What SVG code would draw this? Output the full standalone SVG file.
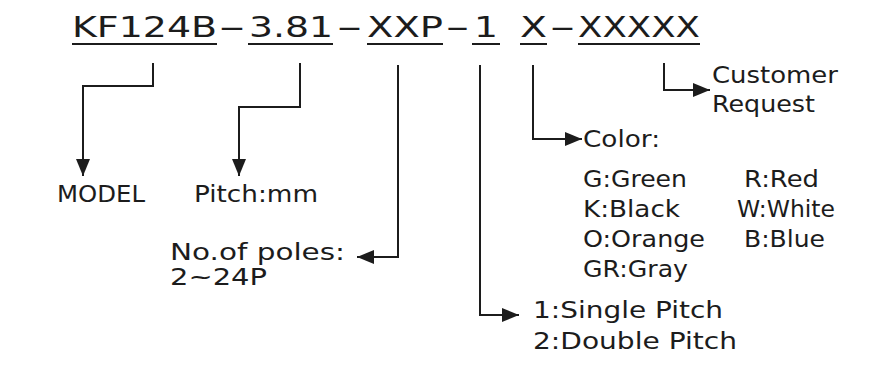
<svg xmlns="http://www.w3.org/2000/svg" width="873" height="373" viewBox="0 0 873 373">
<style>
text{font-family:"DejaVu Sans","Liberation Sans",sans-serif;fill:#1c1c1c}
.t{font-size:28px}
.l{font-size:23px}
.ul{stroke:#1c1c1c;stroke-width:2}
.c{fill:none;stroke:#1c1c1c;stroke-width:2}
</style>
<defs>
<marker id="ah" viewBox="0 0 17 14" refX="17" refY="7" markerWidth="17" markerHeight="14" markerUnits="userSpaceOnUse" orient="auto">
<path d="M0,0 L17,7 L0,14 z" fill="#1c1c1c"/>
</marker>
</defs>
<rect width="873" height="373" fill="#fff"/>
<g id="title">
<text class="t" x="72" y="37" textLength="145" lengthAdjust="spacingAndGlyphs">KF124B</text>
<text class="t" x="218" y="37" textLength="28" lengthAdjust="spacingAndGlyphs">-</text>
<text class="t" x="249" y="37" textLength="84" lengthAdjust="spacingAndGlyphs">3.81</text>
<text class="t" x="336" y="37" textLength="27" lengthAdjust="spacingAndGlyphs">-</text>
<text class="t" x="367" y="37" textLength="76" lengthAdjust="spacingAndGlyphs">XXP</text>
<text class="t" x="445" y="37" textLength="25" lengthAdjust="spacingAndGlyphs">-</text>
<text class="t" x="474" y="37" textLength="24" lengthAdjust="spacingAndGlyphs">1</text>
<text class="t" x="520" y="37" textLength="27" lengthAdjust="spacingAndGlyphs">X</text>
<text class="t" x="549" y="37" textLength="27" lengthAdjust="spacingAndGlyphs">-</text>
<text class="t" x="578" y="37" textLength="122" lengthAdjust="spacingAndGlyphs">XXXXX</text>
<line class="ul" x1="72" y1="44" x2="217" y2="44"/>
<line class="ul" x1="248" y1="44" x2="333" y2="44"/>
<line class="ul" x1="367" y1="44" x2="443" y2="44"/>
<line class="ul" x1="472" y1="44" x2="500" y2="44"/>
<line class="ul" x1="520" y1="44" x2="547" y2="44"/>
<line class="ul" x1="578" y1="44" x2="700" y2="44"/>
</g>
<g id="connectors">
<path class="c" d="M153,63 V86 H83 V176" marker-end="url(#ah)"/>
<path class="c" d="M300,63 V107 H239 V176" marker-end="url(#ah)"/>
<path class="c" d="M398,65 V257 H357" marker-end="url(#ah)"/>
<path class="c" d="M480,65 V315 H519" marker-end="url(#ah)"/>
<path class="c" d="M533,65 V139 H582" marker-end="url(#ah)"/>
<path class="c" d="M664,63 V90 H710" marker-end="url(#ah)"/>
</g>
<g id="model">
<text class="l" x="57" y="202" textLength="88" lengthAdjust="spacingAndGlyphs">MODEL</text>
</g>
<g id="pitch">
<text class="l" x="194" y="202" textLength="124" lengthAdjust="spacingAndGlyphs">Pitch:mm</text>
</g>
<g id="poles">
<text class="l" x="170" y="260" textLength="175" lengthAdjust="spacingAndGlyphs">No.of poles:</text>
<text class="l" x="170" y="285" textLength="97" lengthAdjust="spacingAndGlyphs">2~24P</text>
</g>
<g id="pitch-type">
<text class="l" x="533" y="318" textLength="190" lengthAdjust="spacingAndGlyphs">1:Single Pitch</text>
<text class="l" x="533" y="349" textLength="204" lengthAdjust="spacingAndGlyphs">2:Double Pitch</text>
</g>
<g id="color">
<text class="l" x="583" y="147" textLength="77" lengthAdjust="spacingAndGlyphs">Color:</text>
<text class="l" x="583" y="187" textLength="104" lengthAdjust="spacingAndGlyphs">G:Green</text>
<text class="l" x="583" y="217" textLength="97" lengthAdjust="spacingAndGlyphs">K:Black</text>
<text class="l" x="583" y="247" textLength="122" lengthAdjust="spacingAndGlyphs">O:Orange</text>
<text class="l" x="583" y="277" textLength="105" lengthAdjust="spacingAndGlyphs">GR:Gray</text>
<text class="l" x="744" y="187" textLength="75" lengthAdjust="spacingAndGlyphs">R:Red</text>
<text class="l" x="737" y="217" textLength="98" lengthAdjust="spacingAndGlyphs">W:White</text>
<text class="l" x="744" y="247" textLength="81" lengthAdjust="spacingAndGlyphs">B:Blue</text>
</g>
<g id="customer">
<text class="l" x="712" y="83" textLength="126" lengthAdjust="spacingAndGlyphs">Customer</text>
<text class="l" x="712" y="112" textLength="103" lengthAdjust="spacingAndGlyphs">Request</text>
</g>
</svg>
